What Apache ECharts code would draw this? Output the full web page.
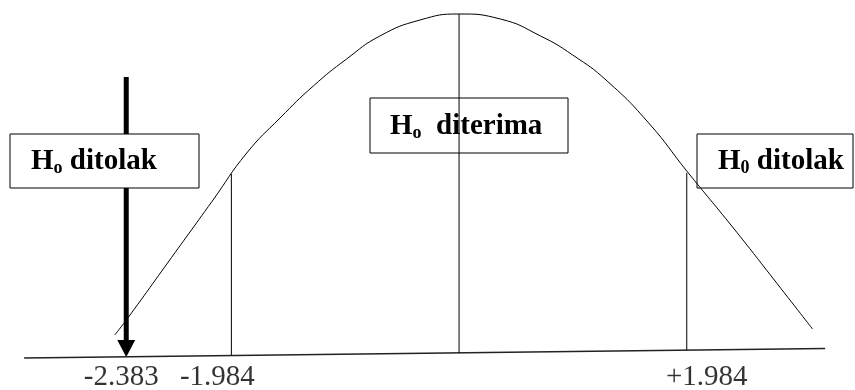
<!DOCTYPE html>
<html>
<head>
<meta charset="utf-8">
<script src="https://cdn.jsdelivr.net/npm/echarts@6/dist/echarts.min.js"></script>
<style>
  html, body { margin: 0; padding: 0; background: #fff; }
  #chart { width: 855px; height: 390px; }
</style>
</head>
<body>
<div id="chart"></div>
<script>
// bell curve (x in t units, y in arbitrary height units)
var curveX = [-3.00, -2.88, -2.54, -2.15, -1.85, -1.56, -1.27, -0.98, -0.69, -0.34, 0,
              0.36, 0.71, 0.99, 1.29, 1.66, 1.984, 2.39, 2.74, 3.08];
var curveY = [0.20, 0.38, 0.92, 1.54, 2.02, 2.37, 2.69, 2.96, 3.19, 3.35, 3.41,
              3.36, 3.19, 3.00, 2.74, 2.31, 1.84, 1.27, 0.76, 0.26];

// slightly tilted base line
var baseX = [-3.79, 3.19];
var baseY = [-0.03, 0.065];

// vertical lines: critical values and the centre
var vlineX = [-1.984, 0, 1.984];
var vlineBottom = [0.0, 0.02, 0.05];
var vlineTop = [1.81, 3.41, 1.82];

// t hitung arrow
var arrowX = -2.90;
var arrowTop = 2.78;
var arrowTip = -0.02;

// labels under the base line
var tickX = [-2.90, -1.984, 1.984];
var tickLabels = ['-2.383', '-1.984', '+1.984'];
var tickShift = [-5, -14, 20];

function pairs(xs, ys) {
  var out = [];
  for (var i = 0; i < xs.length; i++) out.push([xs[i], ys[i]]);
  return out;
}

var serif = "'Liberation Serif', 'Times New Roman', serif";
var lineStyle = { color: '#000', width: 1 };

var series = [];

series.push({
  type: 'line', data: pairs(curveX, curveY), smooth: 0.5,
  symbol: 'none', lineStyle: lineStyle, silent: true
});
series.push({
  type: 'line', data: pairs(baseX, baseY),
  symbol: 'none', lineStyle: { color: '#222', width: 1.3 }, silent: true
});
for (var i = 0; i < vlineX.length; i++) {
  series.push({
    type: 'line', data: [[vlineX[i], vlineBottom[i]], [vlineX[i], vlineTop[i]]],
    symbol: 'none', lineStyle: lineStyle, silent: true
  });
}

// arrow drawn with a custom series so it goes through the axes
series.push({
  type: 'custom', silent: true, z: 3,
  data: [[arrowX, arrowTop, arrowTip]],
  renderItem: function(params, api) {
    var top = api.coord([api.value(0), api.value(1)]);
    var tip = api.coord([api.value(0), api.value(2)]);
    var headH = 17, headW = 9;
    return {
      type: 'group',
      children: [
        { type: 'line', shape: { x1: top[0], y1: top[1], x2: tip[0], y2: tip[1] - headH + 1 },
          style: { stroke: '#000', lineWidth: 5 } },
        { type: 'polygon', shape: { points: [[tip[0] - headW, tip[1] - headH], [tip[0] + headW, tip[1] - headH], [tip[0], tip[1]]] },
          style: { fill: '#000' } }
      ]
    };
  }
});

var tickData = [];
for (var k = 0; k < tickX.length; k++) {
  tickData.push({
    value: [tickX[k], 0],
    label: { formatter: tickLabels[k], offset: [tickShift[k], 0] }
  });
}
series.push({
  type: 'scatter', symbolSize: 0, silent: true, data: tickData,
  label: { show: true, position: 'bottom', distance: 8, color: '#000', fontFamily: serif, fontSize: 29 }
});

function box(x, y, w, h, fill, tx, sub, rest) {
  return [
    { type: 'rect', z: 100, shape: { x: x, y: y, width: w, height: h },
      style: { fill: fill, stroke: '#000', lineWidth: 1 } },
    { type: 'text', z: 101, x: tx, y: y + h / 2 + 1,
      style: {
        text: '{h|H}{s|' + sub + '}{h|' + rest + '}',
        verticalAlign: 'middle', align: 'left',
        rich: {
          h: { fontSize: 29, fontWeight: 'bold', fontFamily: serif, fill: '#000' },
          s: { fontSize: 18, fontWeight: 'bold', fontFamily: serif, fill: '#000', padding: [13, 0, 0, 0] }
        }
      } }
  ];
}

var graphics = [].concat(
  box(10, 134, 189, 54, '#fff', 31, 'o', ' ditolak'),
  box(370, 98, 198, 55, 'none', 390, 'o', '  diterima'),
  box(697, 134, 156, 54, 'none', 718, '0', ' ditolak')
);

var chart = echarts.init(document.getElementById('chart'));
chart.setOption({
  animation: false,
  backgroundColor: '#fff',
  grid: { left: 0, right: 0, top: 0, bottom: 0 },
  xAxis: { type: 'value', min: -4, max: 3.45, show: false },
  yAxis: { type: 'value', min: -0.35, max: 3.55, show: false },
  graphic: graphics,
  series: series
});
</script>
</body>
</html>
